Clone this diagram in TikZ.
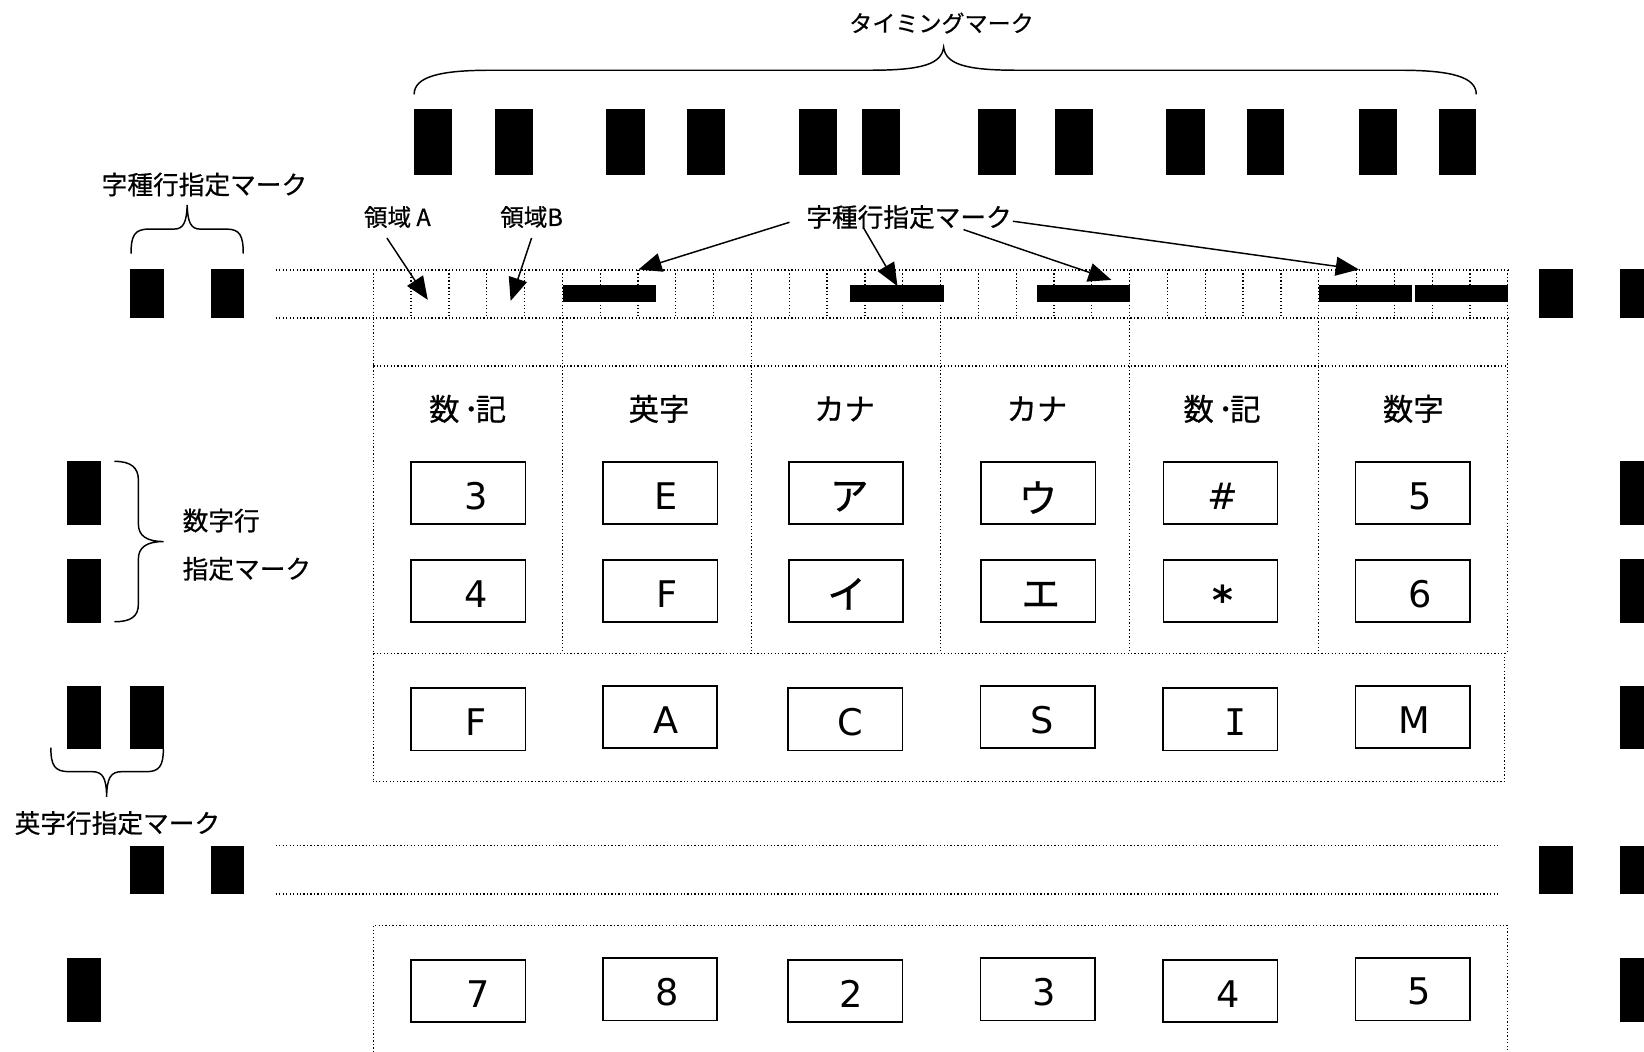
\documentclass[tikz,border=0pt]{standalone}
\usepackage{fontspec}
\setmainfont{Noto Sans CJK JP}[FakeBold=0.6]
\newfontfamily\latfont{DejaVu Sans}
\newfontfamily\latmono{DejaVu Sans Mono}
\usetikzlibrary{arrows.meta}
\begin{document}
\begin{tikzpicture}[x=1pt,y=-1pt,
  dotln/.style={line width=1.2pt, dash pattern=on 1.2pt off 2.1pt},
  keybox/.style={draw=black, line width=1.5pt, inner sep=0pt, minimum width=109pt, minimum height=59.5pt},
  boxtxt/.style={font=\latfont\fontsize{35}{40}\selectfont, inner sep=0pt},
  kanatxt/.style={font=\fontsize{37}{40}\selectfont, inner sep=0pt},
  hdr/.style={font=\fontsize{29}{32}\selectfont, inner sep=0pt},
  lbl/.style={font=\fontsize{24.5}{28}\selectfont, inner sep=0pt},
  slbl/.style={font=\fontsize{22.5}{26}\selectfont, inner sep=0pt},
  arr/.style={line width=1.4pt, -{Triangle[length=22pt,width=18pt]}},
  brc/.style={line width=1.4pt},
]
\path[use as bounding box] (0,0) rectangle (1568,1003);
\clip (0,0) rectangle (1568,1003);

% ---------- timing marks ----------
\foreach \a/\b in {395/431,472/508,578/615,655/691,762/798,822/858,933/969,1006/1042,1112/1149,1189/1225,1296/1332,1372/1408}
  \fill (\a,104) rectangle (\b,166.5);
\draw[brc] (395,90) .. controls (395,73) and (420,67) .. (468,67) -- (830,67)
  .. controls (880,67) and (898,61) .. (900,45)
  .. controls (902,61) and (920,67) .. (970,67) -- (1335,67)
  .. controls (1383,67) and (1408,73) .. (1408,90);
\node[slbl, font=\fontsize{22}{26}\selectfont] (timing) at (898,22) {タイミングマーク};

% ---------- left / right marks ----------
\fill (124,257) rectangle (156,303);
\fill (201,257) rectangle (233,303);
\fill (1468,257) rectangle (1500,303);
\fill (1545,257) rectangle (1577,303);
\fill (64,440) rectangle (96,500.5);
\fill (64,533.5) rectangle (96,594);
\fill (1545,440) rectangle (1577,500.5);
\fill (1545,533.5) rectangle (1577,594);
\fill (64,654) rectangle (96,714.5);
\fill (124,654) rectangle (156,714.5);
\fill (1545,654) rectangle (1577,714.5);
\fill (124,806.5) rectangle (156,853);
\fill (201,806.5) rectangle (233,853);
\fill (1468,806.5) rectangle (1500,853);
\fill (1545,806.5) rectangle (1577,853);
\fill (64,914) rectangle (96,974.5);
\fill (1545,914) rectangle (1577,974.5);

% ---------- left labels and braces ----------
\node[lbl] (lblL) at (195,176) {字種行指定マーク};
\draw[brc] (125,242) .. controls (125,225) and (128,218.5) .. (142,218.5) -- (166,218.5)
  .. controls (175,218.5) and (178,212) .. (178.5,195.5)
  .. controls (179,212) and (182,218.5) .. (191,218.5) -- (216,218.5)
  .. controls (229,218.5) and (232,225) .. (232,242);

\draw[brc] (109,440) .. controls (125,440) and (132,446) .. (132,458) -- (132,500)
  .. controls (132,511) and (140,516.5) .. (156,516.5)
  .. controls (140,516.5) and (132,522) .. (132,533) -- (132,576)
  .. controls (132,588) and (125,593) .. (109,593);
\node[lbl, anchor=west] (numA) at (174,496.5) {数字行};
\node[lbl, anchor=west] (numB) at (174,542.5) {指定マーク};

\draw[brc] (48.5,713) .. controls (48.5,730) and (52,736) .. (66,736) -- (88,736)
  .. controls (98,736) and (101.5,742) .. (101.7,760)
  .. controls (102,742) and (105.5,736) .. (116,736) -- (140,736)
  .. controls (152,736) and (155.8,730) .. (155.8,714.5);
\node[lbl] (eiji) at (112,785) {英字行指定マーク};

% ---------- row 1 grid ----------
\draw[dotln] (263,257.5) -- (1438,257.5);
\draw[dotln] (263,303.3) -- (1438,303.3);
\foreach \k in {0,...,30}
  \draw[dotln] ({356+\k*36.07},257.5) -- ({356+\k*36.07},303.3);
\foreach \k in {1,...,5}
  \draw[dotln] ({356+5*\k*36.07},303.3) -- ({356+5*\k*36.07},623);
\draw[dotln] (356,257.5) -- (356,745.5);
\draw[dotln] (1438,257.5) -- (1438,623);
\draw[dotln] (356,349) -- (1438,349);
\draw[dotln] (356,623) -- (1436,623);
\draw[dotln] (1435,623) -- (1435,745.5) -- (356,745.5);

\fill (537,272) rectangle (626,288.5);
\fill (811,272) rectangle (900.5,288.5);
\fill (989,272) rectangle (1078,288.5);
\fill (1257.6,272) rectangle (1347,288.5);
\fill (1349.2,272) rectangle (1438.6,288.5);

% ---------- region labels and arrows ----------
\node[slbl] (ryA) at (379,207) {領域 A};
\node[slbl] (ryB) at (507,207) {領域B};
\coordinate (sA) at (369,227);
\coordinate (tA) at (408,286);
\coordinate (sB) at (507,227);
\coordinate (tB) at (487,287);
\draw[arr] (sA) -- (tA);
\draw[arr] (sB) -- (tB);

\node[lbl] (lblM) at (867,207) {字種行指定マーク};
\coordinate (s1) at (753,212);
\coordinate (s2) at (824,218);
\coordinate (s3) at (919,219);
\coordinate (s4) at (966,211);
\coordinate (t1) at (609,257);
\coordinate (t2) at (856,273);
\coordinate (t3) at (1060,267);
\coordinate (t4) at (1296,257);
\draw[arr] (s1) -- (t1);
\draw[arr] (s2) -- (t2);
\draw[arr] (s3) -- (t3);
\draw[arr] (s4) -- (t4);

% ---------- headers ----------
\node[hdr] (h1) at (446,390) {数\kern4pt･\kern-3pt記};
\node[hdr] (h2) at (628.5,390) {英字};
\node[hdr] (h3) at (805.5,390) {カナ};
\node[hdr] (h4) at (989,390) {カナ};
\node[hdr] (h5) at (1165.5,390) {数\kern4pt･\kern-3pt記};
\node[hdr] (h6) at (1348,390) {数字};

% ---------- key boxes ----------
\node[keybox] (a1) at (446.6,470.2) {};
\node[keybox] (a2) at (629.7,470.2) {};
\node[keybox] (a3) at (806.8,470.2) {};
\node[keybox] (a4) at (990.2,470.2) {};
\node[keybox] (a5) at (1164,470.2) {};
\node[keybox] (a6) at (1347.4,470.2) {};
\node[keybox] (b1) at (446.6,563.6) {};
\node[keybox] (b2) at (629.7,563.6) {};
\node[keybox] (b3) at (806.8,563.6) {};
\node[keybox] (b4) at (990.2,563.6) {};
\node[keybox] (b5) at (1164,563.6) {};
\node[keybox] (b6) at (1347.4,563.6) {};
\node[boxtxt] (ta1) at (454.6,473.4) {3};
\node[boxtxt] (ta2) at (635.3,473.4) {E};
\node[kanatxt] (ta3) at (810,473.7) {ア};
\node[kanatxt] (ta4) at (990,474.5) {ウ};
\node[boxtxt] (ta5) at (1166.3,473.4) {\#};
\node[boxtxt] (ta6) at (1354.3,473.4) {5};
\node[boxtxt] (tb1) at (454.6,566.8) {4};
\node[boxtxt] (tb2) at (635.8,566.8) {F};
\node[kanatxt] (tb3) at (807.5,566.5) {イ};
\node[kanatxt] (tb4) at (992.7,567.3) {エ};
\node[boxtxt, font=\latfont\bfseries\fontsize{38}{40}\selectfont] (tb5) at (1166,572) {*};
\node[boxtxt] (tb6) at (1354.3,566.8) {6};
% FACSIM row
\node[keybox] (c1) at (446.5,686) {};
\node[keybox] (c2) at (629.5,683.9) {};
\node[keybox] (c3) at (806.1,686) {};
\node[keybox] (c4) at (989.6,683.9) {};
\node[keybox] (c5) at (1163.8,686) {};
\node[keybox] (c6) at (1347.3,683.9) {};
\node[boxtxt] (tc1) at (453.9,689) {F};
\node[boxtxt] (tc2) at (635.5,687) {A};
\node[boxtxt] (tc3) at (810.7,689) {C};
\node[boxtxt] (tc4) at (993.9,687) {S};
\node[boxtxt, font=\latmono\fontsize{35}{40}\selectfont] (tc5) at (1178,689) {I};
\node[boxtxt] (tc6) at (1348.5,687) {M};
% bottom numeric row
\node[keybox] (d1) at (446.5,945.2) {};
\node[keybox] (d2) at (629.5,943.5) {};
\node[keybox] (d3) at (806.1,945.2) {};
\node[keybox] (d4) at (989.6,943.5) {};
\node[keybox] (d5) at (1163.8,945.2) {};
\node[keybox] (d6) at (1347.3,943.5) {};
\node[boxtxt] (td1) at (455.8,947.7) {7};
\node[boxtxt] (td2) at (636.6,946) {8};
\node[boxtxt] (td3) at (812,947.7) {2};
\node[boxtxt] (td4) at (995.9,946) {3};
\node[boxtxt] (td5) at (1171.2,947.7) {4};
\node[boxtxt] (td6) at (1354,946) {5};

% ---------- lower dotted lines ----------
\draw[dotln] (263,806.6) -- (1431,806.6);
\draw[dotln] (263,852.7) -- (1431,852.7);
\draw[dotln] (356,1010) -- (356,883) -- (1438,883) -- (1438,1010);
\end{tikzpicture}
\end{document}
